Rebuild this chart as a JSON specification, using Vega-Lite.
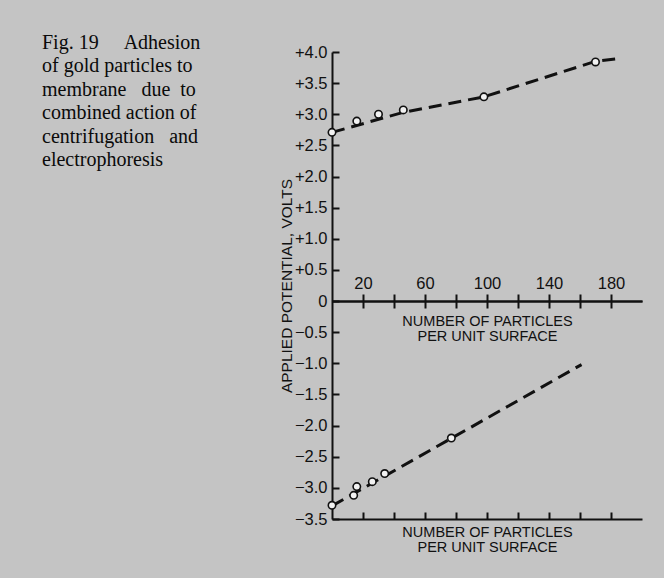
{
  "$schema": "https://vega.github.io/schema/vega-lite/v6.json",
  "width": 310,
  "height": 467,
  "autosize": "none",
  "padding": {"left": 332, "top": 52, "right": 22, "bottom": 59},
  "background": "#c4c4c4",
  "config": {
    "view": {"stroke": null},
    "font": "Liberation Sans",
    "axis": {
      "labelFont": "Liberation Sans",
      "titleFont": "Liberation Sans",
      "labelColor": "#111",
      "titleColor": "#111",
      "domainColor": "#111",
      "tickColor": "#111",
      "grid": false,
      "labelFontSize": 16.5,
      "titleFontSize": 14.5,
      "titleFontWeight": "normal",
      "domainWidth": 2,
      "tickWidth": 2,
      "labelOverlap": false,
      "tickCount": 30
    }
  },
  "title": {
    "text": ["Fig. 19\u00a0\u00a0\u00a0\u00a0\u00a0Adhesion", "of gold particles to", "membrane\u00a0\u00a0\u00a0due\u00a0\u00a0to", "combined action of", "centrifugation\u00a0\u00a0\u00a0and", "electrophoresis"],
    "anchor": "start",
    "frame": "group",
    "orient": "top",
    "font": "Liberation Serif",
    "fontSize": 20,
    "fontWeight": "normal",
    "lineHeight": 23.4,
    "baseline": "top",
    "dx": -290,
    "dy": 126,
    "offset": 0,
    "color": "#0a0a0a"
  },
  "data": {
    "values": [
      {"series": "fit_top", "x": 0, "y": 2.71},
      {"series": "fit_top", "x": 46, "y": 3.03},
      {"series": "fit_top", "x": 98, "y": 3.28},
      {"series": "fit_top", "x": 170, "y": 3.85},
      {"series": "fit_top", "x": 187, "y": 3.9},
      {"series": "fit_bottom", "x": 0, "y": -3.29},
      {"series": "fit_bottom", "x": 161, "y": -1.02},
      {"series": "obs", "x": 0, "y": 2.71},
      {"series": "obs", "x": 16, "y": 2.89},
      {"series": "obs", "x": 30, "y": 3.0},
      {"series": "obs", "x": 46, "y": 3.07},
      {"series": "obs", "x": 98, "y": 3.28},
      {"series": "obs", "x": 170, "y": 3.84},
      {"series": "obs", "x": 0, "y": -3.28},
      {"series": "obs", "x": 14, "y": -3.12},
      {"series": "obs", "x": 16, "y": -2.98},
      {"series": "obs", "x": 26, "y": -2.9},
      {"series": "obs", "x": 34, "y": -2.77},
      {"series": "obs", "x": 77, "y": -2.2}
    ]
  },
  "layer": [
    {
      "transform": [{"filter": "datum.series == 'fit_top'"}],
      "mark": {"type": "line", "strokeDash": [13, 7], "strokeWidth": 3, "color": "#111"},
      "encoding": {
        "x": {
          "field": "x", "type": "quantitative",
          "scale": {"domain": [0, 200], "nice": false},
          "axis": {
            "orient": "bottom",
            "values": [20, 40, 60, 80, 100, 120, 140, 160, 180],
            "tickCount": 30,
            "labels": false,
            "tickSize": -7,
            "title": ["NUMBER OF PARTICLES", "PER UNIT SURFACE"],
            "titleBaseline": "alphabetic",
            "titleY": 17,
            "titleLineHeight": 15
          }
        },
        "y": {
          "field": "y", "type": "quantitative",
          "scale": {"domain": [-3.5, 4], "nice": false, "zero": false},
          "axis": {
            "values": [-3.5, -3, -2.5, -2, -1.5, -1, -0.5, 0, 0.5, 1, 1.5, 2, 2.5, 3, 3.5, 4],
            "tickCount": 30,
            "labelExpr": "datum.value > 0 ? '+' + format(datum.value, '.1f') : (datum.value == 0 ? '0' : format(datum.value, '.1f'))",
            "tickSize": -7,
            "labelPadding": 12,
            "title": "APPLIED POTENTIAL, VOLTS",
            "titleFontSize": 15.5,
            "titleX": -46,
            "titleY": 233.5,
            "titleAngle": 270,
            "titleAlign": "center",
            "titleBaseline": "middle"
          }
        }
      }
    },
    {
      "transform": [{"filter": "datum.series == 'fit_bottom'"}],
      "mark": {"type": "line", "strokeDash": [13, 7], "strokeWidth": 3, "color": "#111"},
      "encoding": {
        "x": {
          "field": "x", "type": "quantitative",
          "axis": {
            "orient": "top",
            "offset": -249,
            "values": [20, 40, 60, 80, 100, 120, 140, 160, 180],
            "tickCount": 30,
            "labelExpr": "datum.value % 40 == 20 ? datum.label : ''",
            "tickSize": 7,
            "labelPadding": 3,
            "title": null
          }
        },
        "y": {"field": "y", "type": "quantitative"}
      }
    },
    {
      "transform": [{"filter": "datum.series == 'obs'"}],
      "mark": {"type": "point", "shape": "circle", "size": 55, "filled": true, "fill": "#f2f2f2", "stroke": "#111", "strokeWidth": 1.6, "opacity": 1},
      "encoding": {
        "x": {
          "field": "x", "type": "quantitative",
          "axis": {
            "orient": "bottom",
            "offset": -218,
            "values": [20, 40, 60, 80, 100, 120, 140, 160, 180],
            "tickCount": 30,
            "labels": false,
            "tickSize": 7,
            "title": ["NUMBER OF PARTICLES", "PER UNIT SURFACE"],
            "titleBaseline": "alphabetic",
            "titleY": 24,
            "titleLineHeight": 15
          }
        },
        "y": {"field": "y", "type": "quantitative"}
      }
    }
  ],
  "resolve": {"axis": {"x": "independent"}}
}
